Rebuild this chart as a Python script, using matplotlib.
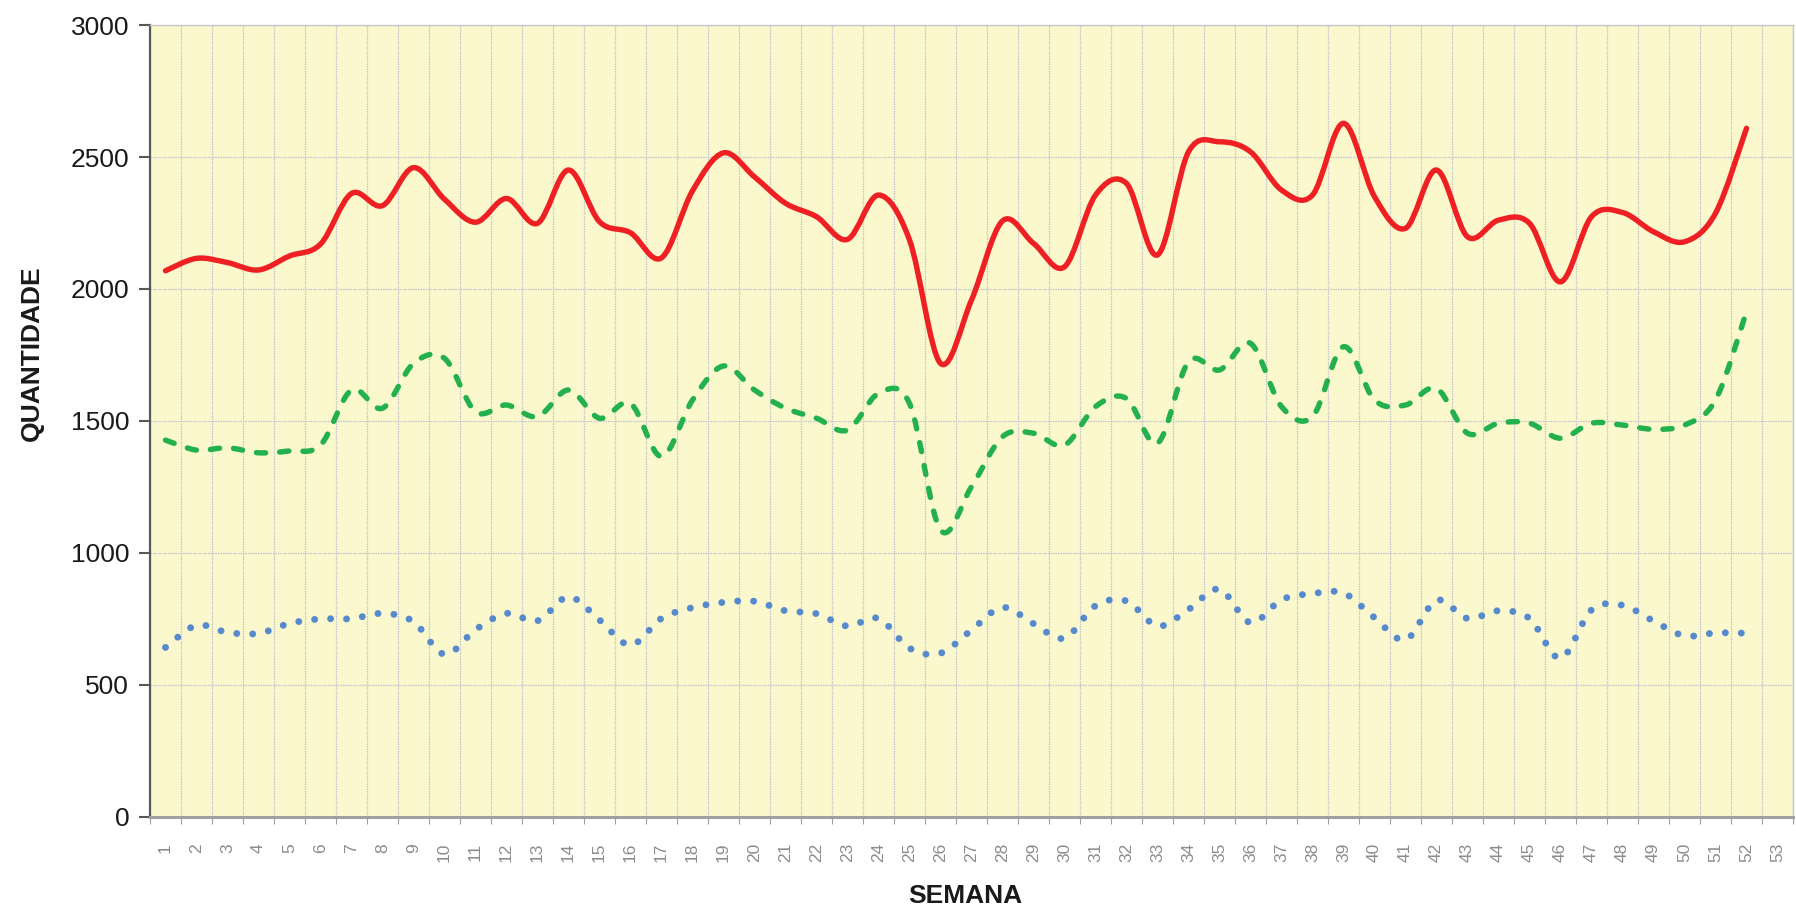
import matplotlib
matplotlib.use('Agg')
import matplotlib.pyplot as plt
from matplotlib.path import Path
from matplotlib.patches import PathPatch
from matplotlib.ticker import FixedLocator, NullFormatter

# ---------------- data ----------------
semanas = list(range(1, 54))            # category labels 1..53
semanas_dados = list(range(1, 53))      # weeks with data

vermelho = [2069, 2116, 2100, 2072, 2125, 2170, 2362, 2316, 2460, 2340,
            2253, 2343, 2249, 2451, 2255, 2213, 2118, 2372, 2516, 2425,
            2325, 2274, 2188, 2356, 2186, 1718, 1958, 2258, 2173, 2084,
            2356, 2400, 2129, 2520, 2558, 2520, 2375, 2356, 2628, 2350,
            2230, 2451, 2198, 2261, 2249, 2027, 2274, 2290, 2217, 2179,
            2287, 2609]

verde = [1427, 1389, 1398, 1379, 1386, 1408, 1617, 1548, 1718, 1737,
         1535, 1560, 1516, 1617, 1510, 1566, 1365, 1579, 1708, 1617,
         1548, 1510, 1465, 1604, 1566, 1086, 1250, 1440, 1453, 1408,
         1554, 1585, 1415, 1724, 1693, 1794, 1554, 1516, 1781, 1579,
         1560, 1623, 1453, 1491, 1491, 1434, 1491, 1484, 1468, 1484,
         1579, 1914]

azul = [641, 725, 698, 694, 732, 749, 750, 770, 739, 615,
        708, 770, 742, 833, 745, 650, 751, 792, 812, 816,
        780, 769, 722, 751, 638, 619, 707, 793, 731, 676,
        799, 817, 722, 785, 862, 735, 822, 845, 847, 754,
        670, 820, 751, 780, 751, 600, 783, 801, 741, 685,
        696, 695]

y_ticks = [0, 500, 1000, 1500, 2000, 2500, 3000]


def smooth_path(xs, ys):
    """Excel-like smoothed line as cubic Bezier path (Catmull-Rom control points)."""
    n = len(xs)
    verts = [(xs[0], ys[0])]
    codes = [Path.MOVETO]
    for i in range(n - 1):
        i0 = max(i - 1, 0)
        i3 = min(i + 2, n - 1)
        c1 = (xs[i] + (xs[i + 1] - xs[i0]) / 6.0, ys[i] + (ys[i + 1] - ys[i0]) / 6.0)
        c2 = (xs[i + 1] - (xs[i3] - xs[i]) / 6.0, ys[i + 1] - (ys[i3] - ys[i]) / 6.0)
        verts += [c1, c2, (xs[i + 1], ys[i + 1])]
        codes += [Path.CURVE4] * 3
    return Path(verts, codes)


plt.rcParams['font.family'] = ['Liberation Sans', 'DejaVu Sans']

fig = plt.figure(figsize=(17.96, 9.08), dpi=100)
ax = fig.add_axes([150 / 1796, 1 - 816.5 / 908, (1793 - 150) / 1796, (816.5 - 25.2) / 908])
ax.set_facecolor('#FAF8CC')

ax.set_xlim(0.5, len(semanas) + 0.5)
ax.set_ylim(0, 3000)

# grid
ax.xaxis.set_major_locator(FixedLocator([k + 0.5 for k in range(0, len(semanas) + 1)]))
ax.xaxis.set_major_formatter(NullFormatter())
ax.xaxis.set_minor_locator(FixedLocator(semanas))
ax.set_xticklabels([str(s) for s in semanas], minor=True)
ax.set_yticks(y_ticks)
ax.set_yticklabels([str(v) for v in y_ticks])
ax.grid(True, which='major', axis='both', color='#C4C4CE', linewidth=0.9,
        linestyle=(0, (1.2, 0.8)))
ax.set_axisbelow(True)

# series
lw_line = 3.9
p_red = PathPatch(smooth_path(semanas_dados, vermelho), fill=False,
                  edgecolor='#EE2024', linewidth=lw_line, capstyle='round',
                  joinstyle='round', zorder=3)
ax.add_patch(p_red)

p_green = PathPatch(smooth_path(semanas_dados, verde), fill=False,
                    edgecolor='#22B14C', linewidth=lw_line,
                    linestyle=(0, (1.7, 2.6)), capstyle='round',
                    joinstyle='round', zorder=3)
ax.add_patch(p_green)

p_blue = PathPatch(smooth_path(semanas_dados, azul), fill=False,
                   edgecolor='#568ACC', linewidth=5.0,
                   linestyle=(0, (0.001, 2.3)), capstyle='round',
                   joinstyle='round', zorder=3)
ax.add_patch(p_blue)

# spines
for s in ['top', 'right']:
    ax.spines[s].set_color('#C8C8C8')
    ax.spines[s].set_linewidth(1.0)
ax.spines['left'].set_color('#595959')
ax.spines['left'].set_linewidth(1.6)
ax.spines['bottom'].set_color('#A0A0A0')
ax.spines['bottom'].set_linewidth(2.2)

# ticks
ax.tick_params(axis='y', which='major', direction='out', length=8, width=1.5,
               color='#595959', labelsize=19, labelcolor='#1a1a1a', pad=7)
ax.tick_params(axis='x', which='major', direction='out', length=5, width=0.8,
               color='#A0A0A0', labelbottom=False)
ax.tick_params(axis='x', which='minor', length=0, labelsize=12.5,
               labelcolor='#8C8C8C', pad=19, labelrotation=90)

fig.text(32 / 1796, 1 - (308 * 1.1454) / 908, 'QUANTIDADE', rotation=90,
         ha='center', va='center', fontsize=19, fontweight='bold', color='#1a1a1a')
fig.text((843 * 1.1454) / 1796, 1 - (782 * 1.1454) / 908, 'SEMANA',
         ha='center', va='center', fontsize=19, fontweight='bold', color='#1a1a1a')

fig.savefig('out.png', dpi=100, facecolor='white')
